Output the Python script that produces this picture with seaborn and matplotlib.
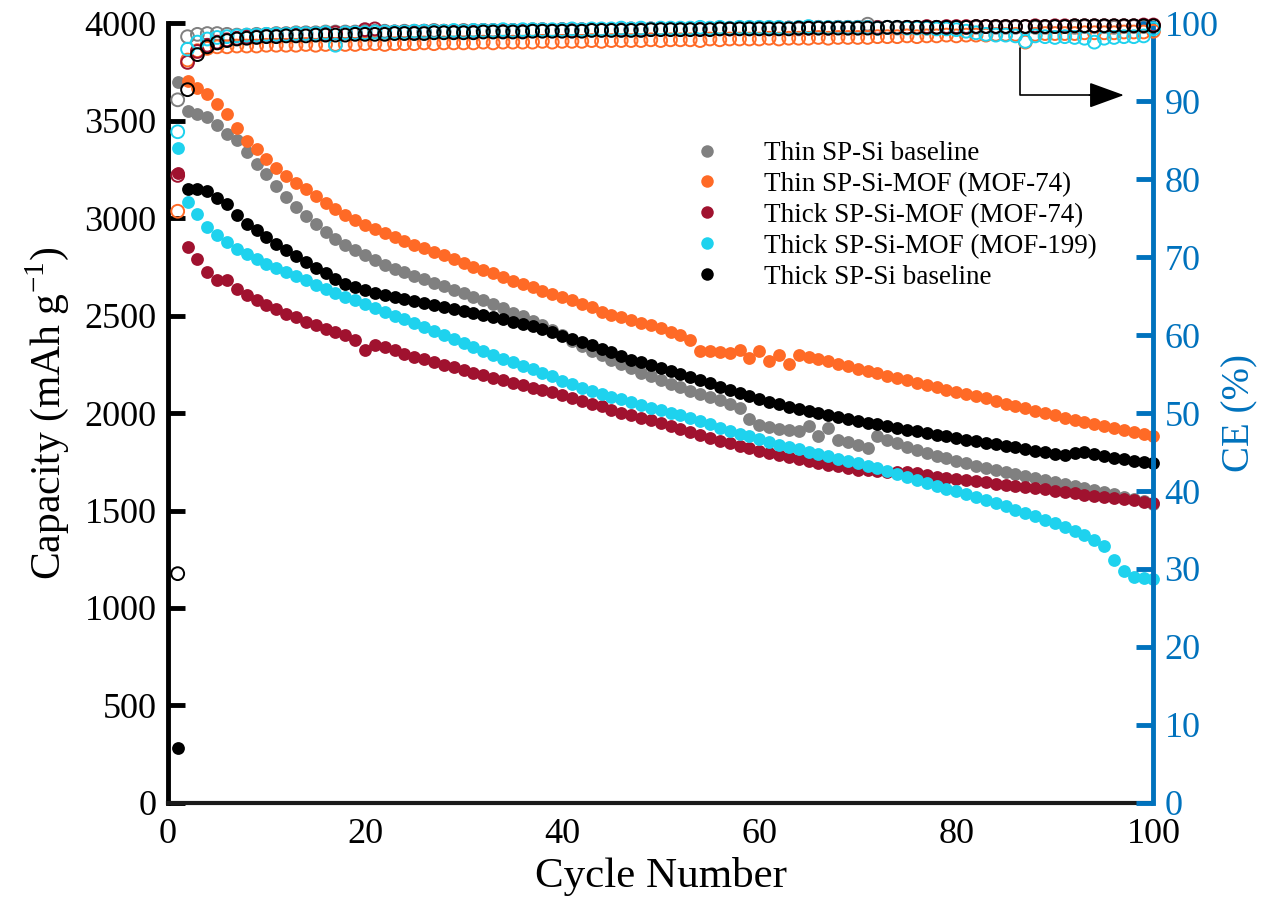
"""Capacity / coulombic efficiency vs. cycle number for SP-Si electrodes."""

import matplotlib
matplotlib.use("Agg")
import matplotlib.pyplot as plt
from matplotlib.lines import Line2D
import numpy as np
import seaborn as sns

cycles = list(range(1, 101))

series_names = [
    "Thin SP-Si baseline",
    "Thin SP-Si-MOF (MOF-74)",
    "Thick SP-Si-MOF (MOF-74)",
    "Thick SP-Si-MOF (MOF-199)",
    "Thick SP-Si baseline",
]
series_colors = ["#808080", "#FF6A26", "#A0122F", "#1ED2EE", "#000000"]

# capacity, mAh g-1 (cycles 1..100)
cap_thin_base = [
    3700, 3550, 3535, 3520, 3480, 3435, 3400, 3340, 3280, 3225,
    3165, 3110, 3060, 3010, 2970, 2930, 2895, 2865, 2835, 2810,
    2785, 2760, 2740, 2722, 2704, 2686, 2668, 2650, 2632, 2615,
    2597, 2580, 2560, 2538, 2516, 2496, 2475, 2452, 2428, 2402,
    2372, 2345, 2320, 2297, 2274, 2250, 2229, 2208, 2188, 2168,
    2150, 2132, 2115, 2098, 2082, 2065, 2047, 2028, 1968, 1938,
    1928, 1921, 1915, 1910, 1935, 1885, 1925, 1862, 1850, 1836,
    1822, 1880, 1862, 1845, 1828, 1810, 1795, 1782, 1768, 1755,
    1743, 1731, 1719, 1707, 1696, 1685, 1675, 1665, 1655, 1645,
    1635, 1625, 1615, 1605, 1595, 1584, 1572, 1560, 1548, 1536,
]
cap_thin_mof74 = [
    np.nan, 3706, 3670, 3638, 3587, 3535, 3463, 3396, 3355, 3303,
    3257, 3215, 3179, 3148, 3112, 3080, 3050, 3019, 2993, 2968,
    2947, 2925, 2905, 2885, 2865, 2845, 2827, 2810, 2790, 2772,
    2752, 2735, 2717, 2698, 2680, 2663, 2646, 2628, 2612, 2596,
    2580, 2562, 2545, 2520, 2505, 2492, 2478, 2465, 2450, 2435,
    2418, 2402, 2375, 2320, 2318, 2312, 2310, 2326, 2285, 2320,
    2270, 2300, 2250, 2300, 2290, 2278, 2266, 2254, 2240, 2228,
    2216, 2204, 2192, 2180, 2168, 2156, 2145, 2133, 2121, 2110,
    2098, 2087, 2076, 2060, 2048, 2036, 2024, 2012, 2000, 1988,
    1977, 1966, 1955, 1944, 1933, 1922, 1911, 1901, 1892, 1884,
]
cap_thick_mof74 = [
    3230, 2850, 2790, 2725, 2684, 2684, 2637, 2606, 2580, 2555,
    2534, 2510, 2493, 2467, 2451, 2431, 2415, 2400, 2374, 2322,
    2350, 2338, 2322, 2305, 2290, 2276, 2262, 2248, 2235, 2222,
    2208, 2195, 2182, 2170, 2157, 2144, 2131, 2118, 2106, 2094,
    2075, 2062, 2048, 2034, 2018, 2002, 1990, 1977, 1963, 1949,
    1935, 1920, 1905, 1889, 1873, 1858, 1845, 1832, 1820, 1808,
    1796, 1785, 1774, 1764, 1754, 1744, 1735, 1726, 1718, 1710,
    1706, 1703, 1700, 1698, 1696, 1694, 1680, 1674, 1668, 1662,
    1656, 1650, 1644, 1638, 1632, 1626, 1620, 1614, 1608, 1602,
    1594, 1588, 1582, 1576, 1570, 1564, 1558, 1552, 1546, 1540,
]
cap_thick_mof199 = [
    3360, 3086, 3024, 2957, 2916, 2880, 2844, 2818, 2792, 2766,
    2745, 2725, 2705, 2684, 2660, 2637, 2617, 2596, 2578, 2560,
    2540, 2518, 2500, 2482, 2462, 2442, 2420, 2400, 2380, 2360,
    2340, 2320, 2300, 2280, 2260, 2242, 2224, 2206, 2188, 2165,
    2150, 2130, 2115, 2100, 2085, 2070, 2056, 2042, 2028, 2015,
    2002, 1988, 1973, 1958, 1942, 1925, 1910, 1895, 1880, 1865,
    1850, 1838, 1826, 1814, 1802, 1790, 1778, 1766, 1754, 1742,
    1730, 1716, 1702, 1688, 1673, 1658, 1643, 1628, 1613, 1598,
    1583, 1568, 1553, 1537, 1521, 1505, 1488, 1470, 1452, 1434,
    1415, 1395, 1372, 1348, 1316, 1244, 1192, 1161, 1152, 1150,
]
cap_thick_base = [
    282, 3148, 3148, 3138, 3102, 3071, 3019, 2973, 2942, 2906,
    2869, 2838, 2805, 2775, 2745, 2718, 2690, 2665, 2648, 2632,
    2615, 2605, 2596, 2586, 2576, 2566, 2556, 2546, 2535, 2524,
    2513, 2502, 2492, 2482, 2470, 2458, 2446, 2430, 2414, 2398,
    2380, 2364, 2348, 2330, 2312, 2292, 2275, 2260, 2245, 2230,
    2216, 2200, 2184, 2168, 2152, 2136, 2120, 2104, 2088, 2073,
    2058, 2045, 2033, 2022, 2011, 2000, 1990, 1980, 1970, 1960,
    1951, 1942, 1933, 1924, 1915, 1906, 1897, 1888, 1880, 1872,
    1864, 1856, 1848, 1840, 1832, 1824, 1816, 1808, 1800, 1792,
    1785, 1796, 1800, 1790, 1780, 1770, 1762, 1755, 1749, 1744,
]

# coulombic efficiency, %
ce_thin_base = [
    90.2, 98.3, 98.6, 98.7, 98.7, 98.6, 98.5, 98.5, 98.6, 98.6,
    98.7, 98.7, 98.8, 98.8, 98.8, 98.9, 98.9, 98.9, 98.9, 99.0,
    99.0, 99.0, 98.9, 99.0, 99.0, 99.0, 99.1, 99.0, 99.0, 99.1,
    99.1, 99.1, 99.0, 99.1, 99.1, 99.1, 99.2, 99.1, 99.1, 99.2,
    99.2, 99.1, 99.2, 99.2, 99.2, 99.2, 99.3, 99.2, 99.2, 99.3,
    99.3, 99.2, 99.3, 99.4, 99.3, 99.3, 99.3, 99.4, 99.3, 99.4,
    99.3, 99.4, 99.4, 99.3, 99.4, 99.4, 99.4, 99.5, 99.4, 99.4,
    99.9, 99.4, 99.5, 99.4, 99.5, 99.5, 99.4, 99.5, 99.5, 99.5,
    99.5, 99.5, 99.6, 99.5, 99.5, 99.5, 99.6, 99.5, 99.5, 99.6,
    99.6, 99.5, 99.6, 99.6, 99.6, 99.5, 99.6, 99.6, 99.6, 99.7,
]
ce_thin_mof74 = [
    75.9, 95.3, 96.5, 96.8, 97.0, 97.0, 97.1, 97.1, 97.1, 97.2,
    97.2, 97.2, 97.2, 97.3, 97.2, 97.3, 97.3, 97.3, 97.3, 97.4,
    97.4, 97.3, 97.4, 97.4, 97.4, 97.5, 97.4, 97.5, 97.5, 97.5,
    97.5, 97.6, 97.5, 97.6, 97.6, 97.6, 97.6, 97.7, 97.6, 97.7,
    97.7, 97.7, 97.8, 97.7, 97.8, 97.8, 97.8, 97.8, 97.9, 97.8,
    97.9, 97.9, 97.9, 97.8, 98.0, 97.9, 98.0, 98.0, 98.0, 98.0,
    98.1, 98.0, 98.1, 98.1, 98.1, 98.2, 98.1, 98.2, 98.2, 98.2,
    98.2, 98.3, 98.3, 98.3, 98.4, 98.3, 98.4, 98.4, 98.5, 98.4,
    98.5, 98.5, 98.5, 98.6, 98.6, 98.6, 97.6, 98.6, 98.7, 98.7,
    98.7, 98.7, 98.8, 98.8, 98.8, 98.8, 98.9, 98.9, 98.9, 99.0,
]
ce_thick_mof74 = [
    80.5, 95.0, 96.4, 97.2, 97.6, 97.9, 98.1, 98.3, 98.4, 98.5,
    98.5, 98.6, 98.6, 98.7, 98.7, 98.7, 98.8, 98.8, 98.8, 99.2,
    99.3, 98.9, 98.9, 98.9, 98.9, 99.0, 99.0, 99.0, 99.0, 99.0,
    99.0, 99.1, 99.1, 99.1, 99.1, 99.1, 99.1, 99.2, 99.1, 99.2,
    99.2, 99.2, 99.2, 99.2, 99.2, 99.3, 99.2, 99.3, 99.3, 99.3,
    99.3, 99.3, 99.3, 99.3, 99.3, 99.4, 99.3, 99.4, 99.4, 99.4,
    99.4, 99.4, 99.4, 99.4, 99.4, 99.5, 99.4, 99.5, 99.5, 99.5,
    99.5, 99.5, 99.5, 99.5, 99.5, 99.5, 99.6, 99.5, 99.6, 99.6,
    99.6, 99.6, 99.6, 99.6, 99.6, 99.6, 99.6, 99.7, 99.6, 99.7,
    99.7, 99.7, 99.7, 99.7, 99.7, 99.7, 99.7, 99.7, 99.8, 99.8,
]
ce_thick_mof199 = [
    86.1, 96.7, 97.6, 98.0, 98.2, 98.3, 98.4, 98.5, 98.5, 98.6,
    98.6, 98.6, 98.7, 98.7, 98.7, 98.8, 97.2, 98.8, 98.8, 98.8,
    98.9, 98.9, 98.9, 98.9, 99.0, 99.0, 99.0, 99.0, 99.1, 99.0,
    99.1, 99.1, 99.1, 99.2, 99.1, 99.2, 99.2, 99.2, 99.2, 99.2,
    99.3, 99.2, 99.3, 99.3, 99.3, 99.4, 99.3, 99.4, 99.3, 99.4,
    99.4, 99.4, 99.4, 99.5, 99.4, 99.5, 99.4, 99.5, 99.5, 99.5,
    99.5, 99.5, 99.4, 99.5, 99.6, 99.5, 99.5, 99.5, 99.5, 99.5,
    99.5, 99.4, 99.5, 99.5, 99.4, 99.4, 99.4, 99.3, 99.3, 99.2,
    99.0, 98.8, 98.6, 98.5, 98.5, 98.4, 97.7, 98.4, 98.3, 98.2,
    98.3, 98.2, 98.1, 97.6, 98.1, 98.2, 98.3, 98.3, 98.4, 99.3,
]
ce_thick_base = [
    29.4, 91.5, 96.0, 97.0, 97.5, 97.8, 98.0, 98.1, 98.2, 98.3,
    98.3, 98.4, 98.4, 98.4, 98.5, 98.5, 98.5, 98.5, 98.6, 98.6,
    98.6, 98.6, 98.7, 98.7, 98.7, 98.7, 98.8, 98.8, 98.8, 98.8,
    98.8, 98.9, 98.9, 98.9, 98.9, 98.9, 99.0, 99.0, 99.0, 99.0,
    99.0, 99.0, 99.1, 99.1, 99.1, 99.1, 99.1, 99.1, 99.2, 99.2,
    99.2, 99.2, 99.2, 99.2, 99.2, 99.3, 99.3, 99.3, 99.3, 99.3,
    99.3, 99.3, 99.3, 99.4, 99.4, 99.4, 99.4, 99.4, 99.4, 99.4,
    99.4, 99.4, 99.5, 99.5, 99.5, 99.5, 99.5, 99.5, 99.5, 99.5,
    99.5, 99.6, 99.6, 99.6, 99.6, 99.6, 99.6, 99.6, 99.6, 99.6,
    99.6, 99.7, 99.7, 99.7, 99.7, 99.7, 99.7, 99.7, 99.7, 99.7,
]

capacities = [cap_thin_base, cap_thin_mof74, cap_thick_mof74, cap_thick_mof199, cap_thick_base]
efficiencies = [ce_thin_base, ce_thin_mof74, ce_thick_mof74, ce_thick_mof199, ce_thick_base]

CE_BLUE = "#0072BD"

sns.set_style("white")
plt.rcParams["font.family"] = ["Liberation Serif", "DejaVu Serif"]
plt.rcParams["mathtext.fontset"] = "custom"
plt.rcParams["mathtext.rm"] = "Liberation Serif"
for key in ["text.color", "axes.labelcolor", "xtick.color", "ytick.color"]:
    plt.rcParams[key] = "black"

fig = plt.figure(figsize=(12.62, 9.01), dpi=100)
ax = fig.add_axes([0.133, 0.109, 0.781, 0.865])
ax2 = ax.twinx()

for col, cap, ce in zip(series_colors, capacities, efficiencies):
    sns.scatterplot(x=cycles, y=cap, color=col, s=85, linewidth=0,
                    ax=ax, clip_on=False, legend=False, zorder=3)
    sns.scatterplot(x=cycles, y=ce, facecolor="none", edgecolor=col, s=85,
                    linewidth=1.4, ax=ax2, clip_on=False, legend=False, zorder=3)

ax.set_xlim(0, 100)
ax.set_ylim(0, 4000)
ax2.set_ylim(0, 100)
ax.set_xticks(range(0, 101, 20))
ax.set_yticks(range(0, 4001, 500))
ax2.set_yticks(range(0, 101, 10))

for side in ["top", "right"]:
    ax.spines[side].set_visible(False)
ax.spines["left"].set_linewidth(3.5)
ax.spines["left"].set_color("black")
ax.spines["bottom"].set_linewidth(3)
ax.spines["bottom"].set_color("#1a1a1a")
for side in ["top", "left", "bottom"]:
    ax2.spines[side].set_visible(False)
ax2.spines["right"].set_linewidth(3.5)
ax2.spines["right"].set_color(CE_BLUE)

ax.tick_params(axis="y", direction="in", length=12, width=3.5,
               labelsize=26, color="black", labelcolor="black", pad=8)
ax.tick_params(axis="x", direction="in", length=12, width=3.5,
               labelsize=26, color="black", labelcolor="black", pad=11)
ax2.tick_params(axis="y", direction="in", length=12, width=3.5,
                labelsize=26, colors=CE_BLUE, pad=8)
# keep the right-hand "0" clear of the bottom "100"
for lab in ax2.get_yticklabels():
    lab.set_verticalalignment("center_baseline")

ax.set_xlabel("Cycle Number", fontsize=31, labelpad=4)
ax.set_ylabel(r"Capacity (mAh g$^{-1}$)", fontsize=30, labelpad=10)
ax2.set_ylabel("CE (%)", fontsize=28, color=CE_BLUE, labelpad=2)

# arrow pointing the CE rings to the right-hand axis
ax2.plot([86.5, 86.5, 94.0], [96.9, 90.8, 90.8], color="black", lw=1.2, zorder=4)
ax2.annotate("", xy=(97.0, 90.8), xytext=(93.5, 90.8),
             arrowprops=dict(arrowstyle="-|>,head_length=1.1,head_width=0.4",
                             mutation_scale=20, color="black", lw=1.2,
                             shrinkA=0, shrinkB=0))

handles = [Line2D([], [], marker="o", linestyle="none", markersize=9,
                  markerfacecolor=c, markeredgecolor="none") for c in series_colors]
fig.legend(handles, series_names, loc="upper left",
           bbox_to_anchor=(680 / 1262, 1 - 141 / 901), frameon=False,
           fontsize=19.5, handlelength=2.0, handletextpad=1.1,
           labelspacing=0.22, borderpad=0, borderaxespad=0)

fig.savefig("out.png", dpi=100)
